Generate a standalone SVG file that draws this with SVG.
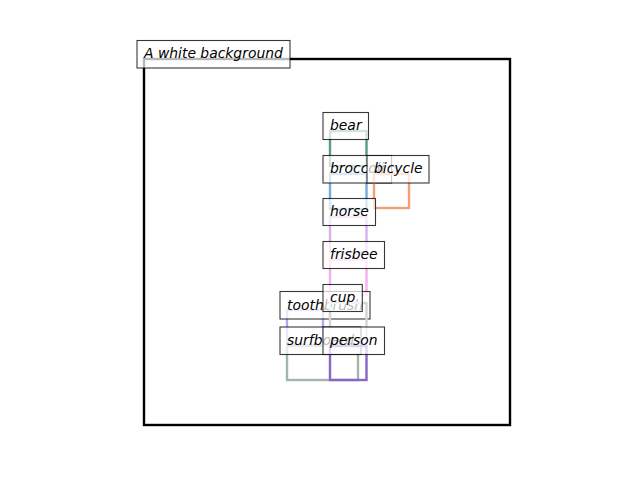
<svg xmlns="http://www.w3.org/2000/svg" width="640" height="480" viewBox="0 0 640 480">
<style>
.bb{fill:none;stroke-width:2.4}
.lb{fill:#fff;fill-opacity:0.72;stroke:#000;stroke-opacity:0.78;stroke-width:1.1}
.tx{font-family:"DejaVu Sans","Liberation Sans",sans-serif;font-style:italic;font-size:13.9px;fill:#000}
</style>
<rect width="640" height="480" fill="#fff"/>
<g id="background">
<rect class="bb" x="144" y="59" width="366" height="366" stroke="#000" stroke-width="2"/>
<rect class="lb" x="137" y="40.5" width="153" height="27.5"/>
<text class="tx" x="144" y="58">A white background</text>
</g>
<g id="bear">
<rect class="bb" x="330" y="131" width="36.5" height="35" stroke="#5b9c80"/>
<rect class="lb" x="323" y="112.5" width="45.5" height="27"/>
<text class="tx" x="330" y="130">bear</text>
</g>
<g id="broccoli">
<rect class="bb" x="330" y="174" width="36.5" height="35" stroke="#78a8dc"/>
<rect class="lb" x="323" y="155.5" width="68.6" height="27.5"/>
<text class="tx" x="330" y="173">broccoli</text>
</g>
<g id="bicycle">
<rect class="bb" x="374" y="174" width="35" height="34" stroke="#f2a078"/>
<rect class="lb" x="367" y="155.5" width="62" height="27.5"/>
<text class="tx" x="374" y="173">bicycle</text>
</g>
<g id="horse">
<rect class="bb" x="330" y="217" width="36.5" height="35" stroke="#d8b0f0"/>
<rect class="lb" x="323" y="198.5" width="52.5" height="27"/>
<text class="tx" x="330" y="216">horse</text>
</g>
<g id="frisbee">
<rect class="bb" x="330" y="260" width="36.5" height="35" stroke="#f6b0ee"/>
<rect class="lb" x="323" y="241.5" width="61.5" height="27"/>
<text class="tx" x="330" y="259">frisbee</text>
</g>
<g id="toothbrush">
<rect class="bb" x="287" y="310" width="36" height="35" stroke="#b4aaf2"/>
<rect class="lb" x="280" y="291.5" width="90" height="27.5"/>
<text class="tx" x="287" y="309.5">toothbrush</text>
</g>
<g id="cup">
<rect class="bb" x="330" y="303" width="36.5" height="36" stroke="#d4d4d4"/>
<rect class="lb" x="323" y="284.5" width="39.3" height="27"/>
<text class="tx" x="330" y="302">cup</text>
</g>
<g id="surfboard">
<rect class="bb" x="287" y="346" width="71" height="34" stroke="#a4b6ac"/>
<rect class="lb" x="280" y="327" width="81" height="27.5"/>
<text class="tx" x="287" y="345">surfboard</text>
</g>
<g id="person">
<rect class="bb" x="330" y="346" width="36.5" height="34" stroke="#8866c6"/>
<rect class="lb" x="323" y="327" width="61.5" height="27.5"/>
<text class="tx" x="330" y="345">person</text>
</g>
<g id="connectors"/>
</svg>
